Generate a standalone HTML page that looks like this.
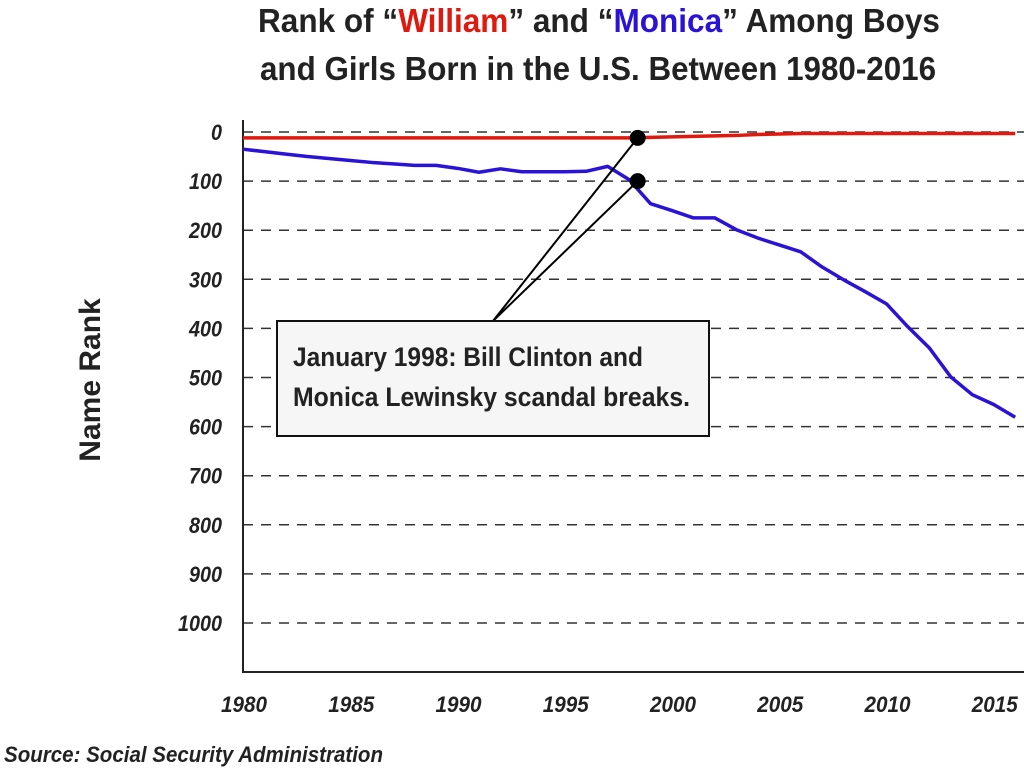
<!DOCTYPE html>
<html><head><meta charset="utf-8"><style>
body{margin:0;background:#fff;width:1024px;height:772px;overflow:hidden}
svg text{font-family:"Liberation Sans Narrow","Liberation Sans",sans-serif;font-weight:bold}
</style></head><body>
<svg id="chart" width="1024" height="772">
<text x="258" y="32" textLength="682" lengthAdjust="spacingAndGlyphs" font-size="33" fill="#222">Rank of  “<tspan fill="#e0190f">William</tspan>” and “<tspan fill="#2a12d6">Monica</tspan>” Among Boys</text>
<text x="260" y="80" textLength="676" lengthAdjust="spacingAndGlyphs" font-size="33" fill="#222">and Girls Born in the U.S. Between 1980-2016</text>
<text transform="translate(100,380) rotate(-90)" text-anchor="middle" font-size="30" fill="#222">Name Rank</text>
<text x="4" y="762" textLength="379" lengthAdjust="spacingAndGlyphs" font-size="22" font-style="italic" fill="#222">Source: Social Security Administration</text>
<g id="grid"></g><g id="axes"></g><g id="series"></g><g id="annot"></g>
</svg>
<script>
const yTicks=[0,100,200,300,400,500,600,700,800,900,1000];
const xTicks=[1980,1985,1990,1995,2000,2005,2010,2015];
const years=[];for(let y=1980;y<=2016;y++)years.push(y);
const monica=[35,40,45,50,54,58,62,65,68,68,74,82,75,81,81,81,80,70,97,146,160,175,175,199,216,230,244,275,301,325,350,397,440,499,535,555,581];
const william=[12,12,12,12,12,12,12,12,12,12,12,12,12,12,12,12,12,12,12,11,10,9,8,7,5,4,3,3,3,3,3,3,3,3,3,3,3];
const NS='http://www.w3.org/2000/svg';
const X=v=>243+(v-1980)*21.45, Y=v=>132+v*0.491;
function mk(t,a,p){const e=document.createElementNS(NS,t);for(const k in a)e.setAttribute(k,a[k]);p.appendChild(e);return e;}
const grid=document.getElementById('grid'),axes=document.getElementById('axes'),series=document.getElementById('series'),an=document.getElementById('annot');
yTicks.forEach(t=>{
 const l=mk('line',{x1:243,x2:1024,y1:Y(t),y2:Y(t),stroke:'#333','stroke-width':1.5,'stroke-dasharray':'10,8'},grid);
 
 
 const tx=mk('text',{x:222,y:Y(t)+8,'text-anchor':'end','font-size':22,'font-style':'italic',fill:'#222',textLength:String(t).length*11,lengthAdjust:'spacingAndGlyphs'},axes);
 tx.textContent=t;
 
 
});
xTicks.forEach(t=>{
 const tx=mk('text',{x:X(t)-22,y:712,'font-size':22,'font-style':'italic',fill:'#222',textLength:46,lengthAdjust:'spacingAndGlyphs'},axes);
 tx.textContent=t;
 
 
});
const ax=mk('path',{d:'M243 120V672H1024',fill:'none',stroke:'#222','stroke-width':2},axes);


function line(d,c,n){const p=mk('polyline',{points:years.map((y,i)=>X(y)+','+Y(d[i])).join(' '),fill:'none',stroke:c,'stroke-width':3.5,'stroke-linejoin':'round'},series);
 
 }
line(william,'#e0190f','william-line');
line(monica,'#2a12d6','monica-line');
const dx=X(1998.4);
const i98=18;
[[Y(william[i98]),'william-dot'],[Y(100),'monica-dot']].forEach(([cy,n])=>{
 const l=mk('line',{x1:493,y1:321,x2:dx,y2:cy,stroke:'#000','stroke-width':2},an);
 
 
 const c=mk('circle',{cx:dx,cy:cy,r:8,fill:'#000'},an);
 
 
});
const b=mk('rect',{x:277,y:321,width:432,height:115,fill:'#f6f6f6',stroke:'#111','stroke-width':2},an);


[['January 1998: Bill Clinton and',366,350],['Monica Lewinsky scandal breaks.',406,397]].forEach(([s,y,w],i)=>{
 const t=mk('text',{x:293,y:y,'font-size':27,fill:'#222',textLength:w,lengthAdjust:'spacingAndGlyphs'},an);t.textContent=s;
 
 
});
</script>
</body></html>
